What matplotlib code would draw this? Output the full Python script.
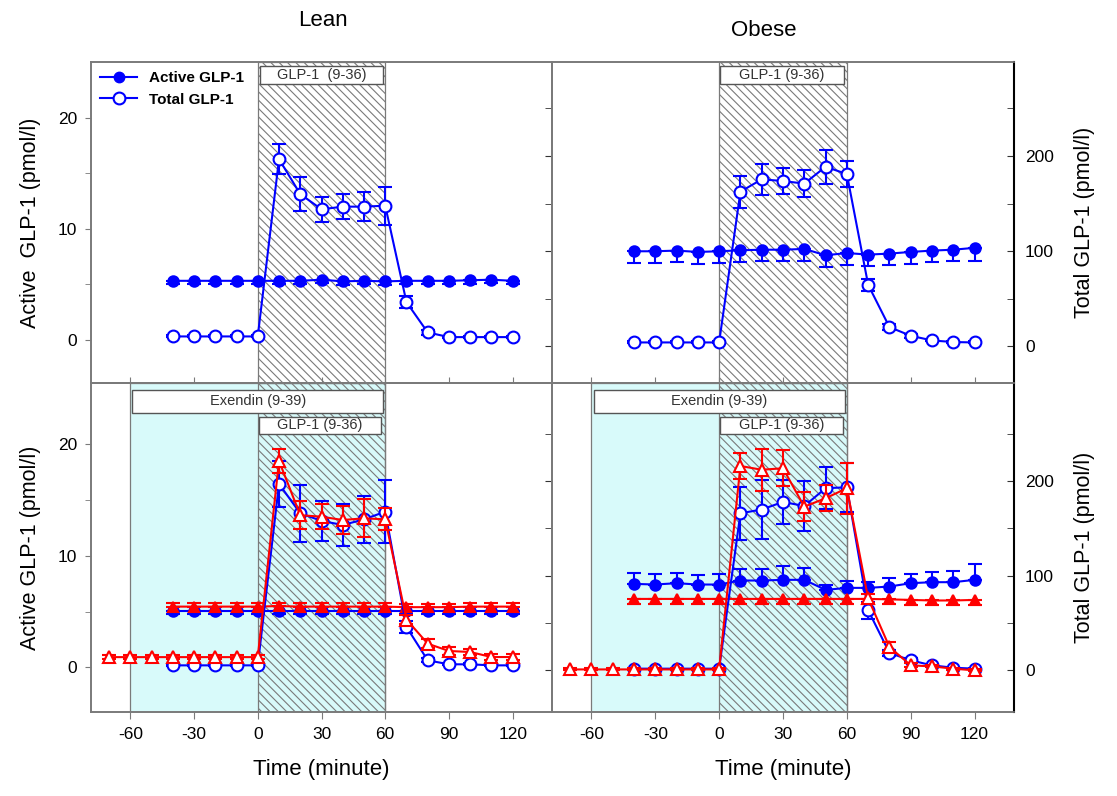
import matplotlib.pyplot as plt
from matplotlib.lines import Line2D
from matplotlib.patches import Rectangle
import matplotlib.transforms as mtransforms

plt.rcParams['font.family'] = ['Liberation Sans', 'DejaVu Sans']
plt.rcParams['hatch.linewidth'] = 0.8
plt.rcParams['axes.unicode_minus'] = False

# sampling times (minutes)
time = [-40, -30, -20, -10, 0, 10, 20, 30, 40, 50, 60, 70, 80, 90, 100, 110, 120]
time_ex = [-70, -60, -50, -40, -30, -20, -10, 0, 10, 20, 30, 40, 50, 60, 70, 80, 90, 100, 110, 120]

# --- Lean, GLP-1 (9-36) only ---
lean_active = [5.3, 5.3, 5.3, 5.3, 5.3, 5.3, 5.3, 5.4, 5.25, 5.3, 5.25, 5.3, 5.3, 5.3, 5.35, 5.4, 5.3]
lean_active_se = [0.3, 0.3, 0.3, 0.3, 0.3, 0.3, 0.3, 0.3, 0.3, 0.3, 0.3, 0.3, 0.3, 0.3, 0.3, 0.3, 0.3]
lean_total = [10.5, 10.5, 10.5, 10.5, 10.5, 196.7, 160, 144, 146.8, 146.8, 147.8, 46.5, 14.7, 9.8, 9.8, 9.8, 9.8]
lean_total_se = [1, 1, 1, 1, 1, 16, 18, 13, 13, 15, 20, 6, 3, 1, 1, 1, 1]

# --- Obese, GLP-1 (9-36) only ---
obese_active = [7.96, 7.96, 8.02, 7.9, 7.96, 8.05, 8.1, 8.1, 8.17, 7.6, 7.8, 7.66, 7.75, 7.9, 8.02, 8.1, 8.27]
obese_active_se = [1.05, 1.05, 1.05, 1.05, 1.05, 1.05, 1.05, 1.05, 1.05, 1.05, 1.05, 1.05, 1.05, 1.05, 1.05, 1.05, 1.2]
obese_total = [4.2, 4.2, 4.2, 4.2, 4.2, 162.5, 175.5, 173.7, 171, 188.7, 181, 64.7, 20.3, 11.2, 6.3, 4.6, 4.2]
obese_total_se = [1, 1, 1, 1, 1, 17, 16, 13.5, 14, 18, 14, 6, 3, 2, 1, 1, 1]

# --- Lean, Exendin (9-39) + GLP-1 (9-36) ---
lean_ex_active = [5.1, 5.1, 5.1, 5.1, 5.1, 5.1, 5.1, 5.1, 5.1, 5.1, 5.1, 5.1, 5.1, 5.1, 5.1, 5.1, 5.1]
lean_ex_active_se = [0.3, 0.3, 0.3, 0.3, 0.3, 0.3, 0.3, 0.3, 0.3, 0.3, 0.3, 0.3, 0.3, 0.3, 0.3, 0.3, 0.3]
lean_ex_active_r = [5.45, 5.45, 5.45, 5.45, 5.45, 5.5, 5.45, 5.45, 5.45, 5.45, 5.45, 5.4, 5.4, 5.4, 5.45, 5.45, 5.45]
lean_ex_active_r_se = [0.3, 0.3, 0.3, 0.3, 0.3, 0.3, 0.3, 0.3, 0.3, 0.3, 0.3, 0.3, 0.3, 0.3, 0.3, 0.3, 0.3]
lean_ex_total = [5.3, 5.3, 5.3, 5.3, 5.3, 197, 166, 158, 153.6, 159.6, 167.7, 45.9, 10.6, 6.4, 6.4, 5.3, 5.3]
lean_ex_total_se = [1, 1, 1, 1, 1, 24, 30, 21, 22, 25, 33, 6, 2, 1, 1, 1, 1]
lean_ex_total_r = [14, 14, 14, 14, 14, 14, 14, 14, 221.4, 164, 162.4, 158.9, 160.7, 159.6, 53.7, 28.2, 20.5, 19.4, 14.1, 14.1]
lean_ex_total_r_se = [2, 2, 2, 2, 2, 2, 2, 2, 13, 15, 13, 15, 20, 11.5, 5, 5, 4, 3, 3, 3]

# --- Obese, Exendin (9-39) + GLP-1 (9-36) ---
obese_ex_active = [7.49, 7.43, 7.55, 7.43, 7.43, 7.79, 7.79, 7.85, 7.85, 6.95, 7.13, 7.13, 7.25, 7.55, 7.64, 7.64, 7.85]
obese_ex_active_se = [0.99, 0.96, 0.9, 0.87, 0.9, 1.05, 1.05, 1.2, 1.08, 0.48, 0.66, 0.57, 0.78, 0.84, 0.9, 0.99, 1.44]
obese_ex_active_r = [6.14, 6.14, 6.14, 6.14, 6.14, 6.14, 6.14, 6.14, 6.14, 6.14, 6.14, 6.14, 6.1, 6.05, 6.0, 6.0, 6.05]
obese_ex_active_r_se = [0.45, 0.45, 0.45, 0.45, 0.45, 0.45, 0.45, 0.45, 0.45, 0.45, 0.45, 0.45, 0.45, 0.45, 0.45, 0.45, 0.45]
obese_ex_total = [1.8, 1.8, 1.8, 1.8, 1.8, 166, 170, 178, 173.7, 192.5, 193.5, 63.6, 18.4, 10.6, 5.3, 2.8, 1.8]
obese_ex_total_se = [1, 1, 1, 1, 1, 28, 31, 23, 26, 22, 26, 9, 3, 2, 1, 1, 1]
obese_ex_total_r = [1, 1, 1, 1, 1, 1, 1, 1, 216, 212, 213.6, 173, 181.9, 192.5, 76, 24.7, 5.3, 4.2, 1.8, 0]
obese_ex_total_r_se = [1, 1, 1, 1, 1, 1, 1, 1, 14, 22, 19, 15, 14, 27, 5, 5, 2, 1, 1, 1]

BLUE = '#0000ff'
RED = '#ff0000'
GRAY = '#7a7a7a'
CYAN = '#d8fafa'

W, H = 1117, 796
fig = plt.figure(figsize=(W / 100, H / 100), dpi=100)


def box(x0, y0, x1, y1):
    return [x0 / W, 1 - y1 / H, (x1 - x0) / W, (y1 - y0) / H]


ax_tl = fig.add_axes(box(91, 62, 552, 383))
ax_tr = fig.add_axes(box(552, 62, 1014, 383))
ax_bl = fig.add_axes(box(91, 383, 552, 712))
ax_br = fig.add_axes(box(552, 383, 1014, 712))

# marker sizes: (filled, open) per marker kind
MS = {('o', True): 7.5, ('o', False): 8.5, ('^', True): 6.5, ('^', False): 8.5}


def series(ax, t, y, se, color, marker, filled, side, z):
    lo = [s if side in ('both', 'lo') else 0 for s in se]
    hi = [s if side in ('both', 'hi') else 0 for s in se]
    ax.errorbar(t, y, yerr=[lo, hi], color=color, lw=1.5, elinewidth=1.5,
                capsize=5, capthick=1.5, marker=marker, ms=MS[(marker, filled)],
                mfc=color if filled else 'white', mec=color, mew=1.5, zorder=z)


def label_box(ax, x0, x1, y0, y1, text, size):
    trans = mtransforms.blended_transform_factory(ax.transData, ax.transAxes)
    ax.add_patch(Rectangle((x0, y0), x1 - x0, y1 - y0, transform=trans,
                           facecolor='white', edgecolor='#555555', lw=1.0, zorder=3))
    ax.text((x0 + x1) / 2, (y0 + y1) / 2, text, transform=trans, ha='center',
            va='center', fontsize=size, color='#333333', zorder=4)


def setup(ax, ax2, top, left, ylim, ylim2):
    ax.set_xlim(-78.5, 138.5)
    ax.set_ylim(*ylim)
    ax2.set_ylim(*ylim2)
    ax.set_xticks([-60, -30, 0, 30, 60, 90, 120])
    if top:
        ax.tick_params(axis='x', direction='in', length=4, color=GRAY, labelbottom=False)
    else:
        ax.tick_params(axis='x', direction='out', length=5, color=GRAY, labelsize=12.5, pad=6)
        ax.set_xlabel('Time (minute)', fontsize=16, labelpad=12)
    if left:
        ax.set_yticks([0, 10, 20])
        ax.set_yticks([5, 15], minor=True)
        ax.tick_params(axis='y', which='both', direction='out', length=4, color=GRAY,
                       labelsize=12.5, pad=6)
        ax.set_ylabel('Active  GLP-1 (pmol/l)' if top else 'Active GLP-1 (pmol/l)',
                      fontsize=15.5, labelpad=12)
    else:
        ax.tick_params(axis='y', which='both', left=False, labelleft=False)
    ax2.set_yticks([0, 100, 200])
    ax2.set_yticks([50, 150, 250], minor=True)
    ax2.tick_params(axis='y', which='both', direction='in', length=5, color='#333333',
                    labelsize=12.5, labelright=not left, pad=8)
    if not left:
        ax2.set_ylabel('Total GLP-1 (pmol/l)', fontsize=15.5, labelpad=14)
    for a in (ax, ax2):
        for s in a.spines.values():
            s.set_color(GRAY)
            s.set_linewidth(1.2)
    if not left:
        ax2.spines['right'].set_color('black')
        ax2.spines['right'].set_linewidth(1.5)
    ax.set_zorder(1)
    ax2.set_zorder(2)


panels = [
    (ax_tl, True, True, False),
    (ax_tr, True, False, False),
    (ax_bl, False, True, True),
    (ax_br, False, False, True),
]

twins = {}
for ax, top, left, ex in panels:
    ax2 = ax.twinx()
    twins[ax] = ax2
    if ex:
        ax.axvspan(-60, 60, facecolor=CYAN, edgecolor=GRAY, lw=0.9, zorder=0)
        setup(ax, ax2, top, left, (-4.0, 25.5), (-44, 303.7))
    else:
        setup(ax, ax2, top, left, (-3.9, 25.0), (-38.4, 298.7))
    ax.axvspan(0, 60, facecolor='none', edgecolor=GRAY, hatch='\\\\\\\\', lw=0.9, zorder=0.5)

# top row
series(ax_tl, time, lean_active, lean_active_se, BLUE, 'o', True, 'lo', 5)
series(twins[ax_tl], time, lean_total, lean_total_se, BLUE, 'o', False, 'both', 5)
series(ax_tr, time, obese_active, obese_active_se, BLUE, 'o', True, 'lo', 5)
series(twins[ax_tr], time, obese_total, obese_total_se, BLUE, 'o', False, 'both', 5)

# bottom row
series(ax_bl, time, lean_ex_active, lean_ex_active_se, BLUE, 'o', True, 'lo', 5)
series(ax_bl, time, lean_ex_active_r, lean_ex_active_r_se, RED, '^', True, 'hi', 6)
series(twins[ax_bl], time, lean_ex_total, lean_ex_total_se, BLUE, 'o', False, 'both', 5)
series(twins[ax_bl], time_ex, lean_ex_total_r, lean_ex_total_r_se, RED, '^', False, 'both', 6)

series(ax_br, time, obese_ex_active, obese_ex_active_se, BLUE, 'o', True, 'hi', 5)
series(ax_br, time, obese_ex_active_r, obese_ex_active_r_se, RED, '^', True, 'lo', 6)
series(twins[ax_br], time, obese_ex_total, obese_ex_total_se, BLUE, 'o', False, 'both', 5)
series(twins[ax_br], time_ex, obese_ex_total_r, obese_ex_total_r_se, RED, '^', False, 'both', 6)

# treatment label boxes
label_box(ax_tl, 1, 59, 0.931, 0.988, 'GLP-1  (9-36)', 10.5)
label_box(ax_tr, 0.5, 58.5, 0.931, 0.988, 'GLP-1 (9-36)', 10.5)
for ax in (ax_bl, ax_br):
    label_box(ax, -59, 59, 0.909, 0.979, 'Exendin (9-39)', 10.5)
    label_box(ax, 0.5, 58, 0.845, 0.897, 'GLP-1 (9-36)', 10.5)

handles = [
    Line2D([], [], color=BLUE, lw=1.5, marker='o', ms=7.5, mfc=BLUE, mec=BLUE),
    Line2D([], [], color=BLUE, lw=1.5, marker='o', ms=8.5, mfc='white', mec=BLUE, mew=1.5),
]
twins[ax_tl].legend(handles, ['Active GLP-1', 'Total GLP-1'], loc='upper left',
                    frameon=False, prop={'weight': 'bold', 'size': 11},
                    handlelength=2.4, borderaxespad=0.2, labelspacing=0.5)

fig.text(323 / W, 1 - 20 / H, 'Lean', ha='center', va='center', fontsize=16)
fig.text(764 / W, 1 - 30 / H, 'Obese', ha='center', va='center', fontsize=16)

fig.savefig('out.png', dpi=100)
